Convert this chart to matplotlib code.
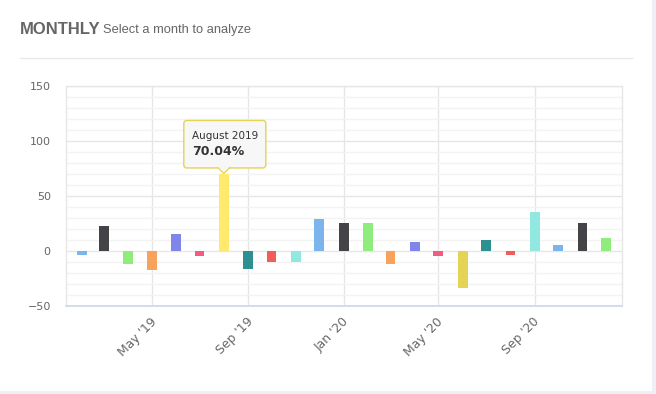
import matplotlib
matplotlib.use("Agg")
import matplotlib.pyplot as plt
import matplotlib.dates as mdates
import matplotlib.transforms as mtransforms
from matplotlib.patches import Polygon, FancyBboxPatch
from matplotlib.ticker import MultipleLocator
import datetime as dt

plt.rcParams['font.family'] = ['Liberation Sans', 'DejaVu Sans']

# ---- data ----
months = ["2019-02", "2019-03", "2019-04", "2019-05", "2019-06", "2019-07", "2019-08",
          "2019-09", "2019-10", "2019-11", "2019-12", "2020-01", "2020-02", "2020-03",
          "2020-04", "2020-05", "2020-06", "2020-07", "2020-08", "2020-09", "2020-10",
          "2020-11", "2020-12"]
values = [-3.3, 22.7, -11.5, -17.3, 15.5, -4.5, 70.04, -16.4, -10.0, -10.0, 29.1,
          25.2, 25.2, -11.5, 8.5, -4.2, -33.3, 10.3, -3.3, 35.8, 5.8, 25.2, 12.1]
palette = ["#7cb5ec", "#434348", "#90ed7d", "#f7a35c", "#8085e9",
           "#f15c80", "#e4d354", "#2b908f", "#f45b5b", "#91e8e1"]
highlight_month = "2019-08"
highlight_color = "#ffea6e"
tooltip_title = "August 2019"
tooltip_value = "70.04%"
title = "MONTHLY"
subtitle = "Select a month to analyze"

dates = [dt.datetime.strptime(m, "%Y-%m") for m in months]
colors = [palette[i % len(palette)] for i in range(len(months))]
colors = [highlight_color if m == highlight_month else c for m, c in zip(months, colors)]

W, H = 656, 394
fig = plt.figure(figsize=(W / 100, H / 100), dpi=100)
fig.patch.set_facecolor("#eef0f5")

# white card
card = plt.Rectangle((0, 1 - 390.5 / H), 652 / W, 390.5 / H, transform=fig.transFigure,
                     facecolor="white", edgecolor="none", zorder=-5)
fig.patches.append(card)

# header
fig.text(20 / W, 1 - 30 / H, title, fontsize=12, fontweight="bold", color="#666666",
         va="center", ha="left")
fig.text(103 / W, 1 - 30.5 / H, subtitle, fontsize=9.3, color="#666666",
         va="center", ha="left")
fig.add_artist(plt.Line2D([20 / W, 632 / W], [1 - 57.5 / H, 1 - 57.5 / H],
                          transform=fig.transFigure, color="#e8e8e8", lw=1))

left, right, top, bottom = 66, 622, 86, 306
ax = fig.add_axes([left / W, 1 - bottom / H, (right - left) / W, (bottom - top) / H])
ax.set_facecolor("white")
ax.set_zorder(2)

ax.bar(dates, values, width=12.5, color=colors, zorder=3, linewidth=0)

ax.set_ylim(-50, 150)
ax.set_xlim(dates[0] - dt.timedelta(days=20.5), dates[-1] + dt.timedelta(days=20.5))

ax.yaxis.set_major_locator(MultipleLocator(50))
ax.yaxis.set_minor_locator(MultipleLocator(10))
ax.xaxis.set_major_locator(mdates.MonthLocator(bymonth=[1, 5, 9]))
ax.xaxis.set_major_formatter(mdates.DateFormatter("%b '%y"))

ax.grid(which="major", axis="both", color="#e6e6e6", lw=1, zorder=0)
ax.grid(which="minor", axis="y", color="#f3f3f3", lw=1, zorder=0)
ax.set_axisbelow(True)

for s in ["top", "left", "right"]:
    ax.spines[s].set_color("#e6e6e6")
    ax.spines[s].set_linewidth(1)
ax.spines["bottom"].set_color("#ccd6eb")
ax.spines["bottom"].set_linewidth(1.2)

ax.tick_params(axis="both", which="both", length=0)
ax.tick_params(axis="y", labelsize=8, labelcolor="#666666", pad=11)
ax.tick_params(axis="x", labelsize=8.9, labelcolor="#666666", pad=10)
shift = mtransforms.ScaledTranslation(3 / 100, 0, fig.dpi_scale_trans)
for lab in ax.get_yticklabels():
    lab.set_family(["DejaVu Sans"])
for lab in ax.get_xticklabels():
    lab.set_family(["DejaVu Sans"])
    lab.set_rotation(45)
    lab.set_ha("right")
    lab.set_va("center")
    lab.set_rotation_mode("anchor")
    lab.set_transform(lab.get_transform() + shift)

# tooltip anchored to the highlighted bar
hi = months.index(highlight_month)
xnum = mdates.date2num(dates[hi])
anchor = mtransforms.Affine2D() + mtransforms.ScaledTranslation(xnum, values[hi], ax.transData)
box = FancyBboxPatch((-40, 6), 82, 47.5, boxstyle="round,pad=0,rounding_size=3",
                     transform=anchor, facecolor="#f7f7f7", edgecolor="#e4d354",
                     lw=1, zorder=6, clip_on=False)
ax.add_patch(box)
ptr = Polygon([(-6, 6.6), (0, 0.5), (6, 6.6)], closed=False, transform=anchor,
              facecolor="#f7f7f7", edgecolor="#e4d354", lw=1, zorder=7, clip_on=False)
ax.add_patch(ptr)
ax.add_patch(Polygon([(-5.3, 6.8), (0, 1.5), (5.3, 6.8)], closed=True, transform=anchor,
                     facecolor="#f7f7f7", edgecolor="none", zorder=7.5, clip_on=False))
ax.text(-31.5, 37.5, tooltip_title, transform=anchor, fontsize=7.5, color="#333333",
        family=["DejaVu Sans"], va="center", ha="left", zorder=8)
ax.text(-31.5, 22.5, tooltip_value, transform=anchor, fontsize=9, color="#333333",
        family=["DejaVu Sans"], fontweight="bold", va="center", ha="left", zorder=8)

fig.savefig("out.png", dpi=100)
